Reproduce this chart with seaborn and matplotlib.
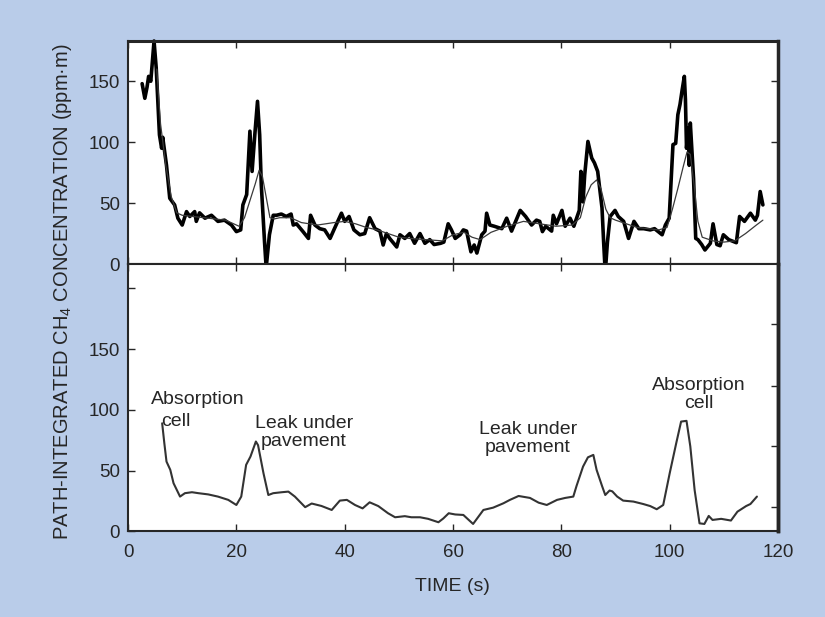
import seaborn as sns
import matplotlib.pyplot as plt
import numpy as np

# raw trace (thick)
raw_t = [2.6, 3.1, 3.5, 3.8, 4.2, 4.8, 5.2, 5.8, 6.2, 6.4, 7.1, 7.7, 8.6, 9.2, 10.0, 10.8, 11.4, 12.3, 12.6, 13.2,
         14.2, 15.4, 16.6, 17.8, 19.1, 20.0, 20.8, 21.2, 21.9, 22.5, 22.9, 23.4, 23.9, 24.3, 24.6, 25.2, 25.5, 26.1,
         26.8, 27.4, 28.3, 29.2, 30.1, 30.5, 31.1, 32.3, 33.3, 33.7, 34.5, 35.4, 36.3, 37.3, 38.1, 39.4, 40.0, 40.8,
         41.7, 42.8, 43.7, 44.6, 45.6, 46.5, 47.1, 47.7, 48.3, 49.6, 50.2, 51.1, 52.0, 52.9, 53.9, 54.8, 55.7, 56.5,
         57.7, 58.3, 59.1, 59.7, 60.4, 61.3, 61.9, 62.5, 63.3, 63.9, 64.4, 65.3, 65.9, 66.2, 66.8, 67.6, 69.0, 69.9,
         70.8, 72.4, 73.4, 74.5, 75.4, 76.0, 76.5, 77.1, 78.2, 78.5, 79.1, 80.1, 80.7, 81.6, 82.3, 83.3, 83.6, 84.0,
         84.3, 84.9, 85.6, 86.1, 86.7, 87.5, 87.8, 88.1, 88.5, 89.0, 89.9, 90.5, 91.5, 92.4, 93.4, 94.3, 95.2, 96.4,
         97.2, 98.6, 99.2, 99.9, 100.6, 101.1, 101.5, 101.9, 102.3, 102.7, 102.9, 103.1, 103.4, 103.6, 103.8, 104.4,
         104.8, 105.2, 105.9, 106.5, 107.5, 108.0, 108.7, 109.3, 109.9, 110.9, 112.3, 112.9, 113.8, 114.9, 115.8,
         116.2, 116.7, 117.2]
raw_c = [148, 136, 145, 154, 150, 183, 161, 106, 95, 104, 81, 54, 48.5, 37.6, 32, 43, 39, 43, 35, 42,
         37.6, 40, 35, 36, 32, 26.6, 28, 48.5, 57, 109, 76, 106, 133.5, 106, 65, 18, -3, 24,
         40, 40, 41, 39, 41, 32, 33, 26.6, 21, 40, 32, 29, 28, 21, 29, 41.7, 35, 39,
         28, 24, 25, 38, 29, 27, 15.6, 25, 21, 14, 24, 21, 25, 17, 25, 17, 20, 16,
         17, 18, 33, 28, 21, 24, 28, 27, 10, 15.6, 9, 24, 27, 41.7, 32, 31, 29, 37.6,
         27, 44, 39, 32, 36, 35, 26.6, 31, 27, 40, 33, 44, 31, 37.6, 31, 44, 76, 51,
         73, 100.6, 87, 83, 76, 46, 18, -7, 18, 39, 44, 39, 35, 21, 35, 29, 29, 28,
         29, 24, 32, 37.6, 98, 99, 122.5, 131, 143, 154, 135, 95, 111.6, 81, 115.7, 70,
         21, 20, 16, 11.5, 17, 33, 16, 15, 24, 20, 17.5, 39, 35, 41.7, 36,
         40, 59.5, 48.5]

# smoothed trace (thin) in the top panel
smooth_t = [5.3, 6.0, 7.0, 8.0, 9.0, 10.0, 12, 14, 16, 18, 19.5, 20.5, 21.5, 22.5, 23.5, 24.2, 24.8, 25.5, 26.2, 27,
            28, 30, 32, 35, 38, 40, 42, 44, 46, 48, 50, 52, 55, 58, 60, 62, 63.5, 65, 67, 70, 73, 76, 79, 82, 83.5,
            84.5, 85.5, 86.5, 87.3, 88.2, 89, 90, 92, 94, 96, 98, 99.5, 100.5, 101.5, 102.5, 103.2, 103.8, 104.5,
            105.2, 106, 108, 110, 112, 114, 116, 117.2]
smooth_c = [160, 115, 80, 55, 42, 40, 39, 38, 37, 36, 33, 31, 38, 52, 66, 77, 72, 55, 38, 37,
            38, 38, 34, 32, 34, 35, 33, 30, 28, 25, 22, 21, 20, 19, 24, 26, 22, 20, 26, 31, 35, 33, 31, 32, 38,
            55, 65, 69, 62, 45, 38, 36, 33, 30, 29, 28, 30, 45, 62, 80, 92, 90, 65,
            35, 22, 19, 18, 19, 25, 32, 36]

# processed trace, bottom panel
proc_t = [6.3, 6.7, 7.1, 7.8, 8.4, 9.6, 10.5, 11.8, 13.0, 14.8, 16.6, 18.5, 20.0, 20.9, 21.8, 22.6, 23.6, 24.0, 25.0,
          25.9, 26.8, 28.4, 29.6, 30.8, 32.7, 33.9, 35.7, 37.6, 39.1, 40.4, 41.9, 43.3, 44.6, 46.2, 48.0, 49.3, 51.1,
          52.3, 53.9, 55.4, 57.3, 58.2, 59.2, 60.4, 61.9, 63.7, 65.6, 67.4, 69.3, 70.5, 72.1, 74.2, 75.8, 77.3, 79.2,
          80.7, 82.2, 82.8, 84.0, 84.9, 85.9, 86.5, 87.5, 88.1, 88.9, 89.4, 90.3, 91.4, 93.3, 95.1, 96.4, 97.6, 98.8,
          100.0, 101.2, 102.1, 103.1, 103.8, 104.6, 105.5, 106.4, 107.2, 107.9, 109.5, 111.3, 112.5, 114.1, 114.9,
          116.1]
proc_c = [89, 72.6, 57.5, 50.7, 39.7, 28.7, 31.5, 32.3, 31.5, 30.5, 28.7, 26, 21.8, 28.7, 54.8, 61.6, 74, 71, 48,
          30, 31.5, 32.3, 32.8, 28.7, 20, 23, 21, 17.7, 25.4, 26, 21.8, 19, 24, 20.9, 15, 11.7, 12.6,
          11.7, 11.7, 10.4, 7.6, 10.7, 15, 14, 13.6, 6.2, 17.7, 19.6, 23.2, 26, 29.2, 27.6, 23.7, 21.8, 26,
          27.6, 28.7, 37.5, 53.4, 61, 63, 50.7, 37.5, 30, 33.7, 33, 28.7, 25.4, 24.6, 22.6, 20.9, 18.3, 21.8,
          48, 72.6, 90.4, 91, 70, 34, 6.7, 6.2, 12.8, 9.5, 10.4, 9, 16.3, 20.9, 22.6,
          28.7]

xticks = [0, 20, 40, 60, 80, 100, 120]
yticks_top = [0, 50, 100, 150]
yticks_bot = [0, 50, 100, 150, 200]
ylabels_bot = ['0', '50', '100', '150', '']
right_ticks_bot = [20, 70, 120, 171]

BG = '#b9cce9'
INK = '#262626'

sns.set_style("ticks")
plt.rcParams['font.family'] = ['Liberation Sans', 'DejaVu Sans']
plt.rcParams['mathtext.fontset'] = 'custom'
plt.rcParams['mathtext.rm'] = 'Liberation Sans'
plt.rcParams['mathtext.it'] = 'Liberation Sans'

fig = plt.figure(figsize=(8.25, 6.17), dpi=100)
fig.patch.set_facecolor(BG)
ax1 = fig.add_axes([0.1552, 0.5721, 0.7879, 0.3614])
ax2 = fig.add_axes([0.1552, 0.1386, 0.7879, 0.4335])

sns.lineplot(x=raw_t, y=raw_c, ax=ax1, color='black', linewidth=2.6, clip_on=False)
sns.lineplot(x=smooth_t, y=smooth_c, ax=ax1, color='#3a3a3a', linewidth=0.9)
sns.lineplot(x=proc_t, y=proc_c, ax=ax2, color='#333333', linewidth=1.5)

for ax in (ax1, ax2):
    ax.set_facecolor('white')
    ax.set_xlim(0, 120)
    ax.set_xticks(xticks)
    ax.set_xlabel('')
    ax.set_ylabel('')
    for s in ax.spines.values():
        s.set_visible(True)
        s.set_color(INK)
        s.set_linewidth(1.5)
    ax.spines['right'].set_linewidth(2.5)
    ax.tick_params(direction='in', length=5, width=1, colors=INK, labelsize=13.5,
                   top=True, bottom=True, pad=6)

ax1.set_ylim(0, 183)
ax1.set_yticks(yticks_top)
ax1.tick_params(axis='x', labelbottom=False)
ax1.tick_params(axis='y', right=True, labelright=False)
ax1.spines['top'].set_linewidth(2.2)

ax2.set_ylim(0, 220)
ax2.set_yticks(yticks_bot)
ax2.set_yticklabels(ylabels_bot)
ax2.tick_params(axis='x', pad=9)
sec = ax2.secondary_yaxis('right')
sec.set_yticks(right_ticks_bot)
sec.set_yticklabels([])
sec.tick_params(direction='in', length=5, width=1, colors=INK)
sec.spines['right'].set_linewidth(2.5)
sec.spines['right'].set_color(INK)

# annotations on the bottom panel
ax2.text(4.2, 105, 'Absorption', fontsize=14, color=INK, ha='left', va='baseline')
ax2.text(6.2, 87, 'cell', fontsize=14, color=INK, ha='left', va='baseline')
ax2.text(32.5, 70, 'Leak under\npavement', fontsize=14, color=INK, ha='center', va='baseline',
         linespacing=1.12)
ax2.text(73.8, 65, 'Leak under\npavement', fontsize=14, color=INK, ha='center', va='baseline',
         linespacing=1.12)
ax2.text(105.4, 101.5, 'Absorption\ncell', fontsize=14, color=INK, ha='center', va='baseline',
         linespacing=1.12)

fig.text(0.5485, 0.05, 'TIME (s)', fontsize=14, color=INK, ha='center', va='center')
fig.text(0.076, 0.527, 'PATH-INTEGRATED CH$_4$ CONCENTRATION (ppm·m)', fontsize=14.5, color=INK,
         rotation=90, ha='center', va='center')

plt.savefig('out.png', dpi=100, facecolor=BG)
